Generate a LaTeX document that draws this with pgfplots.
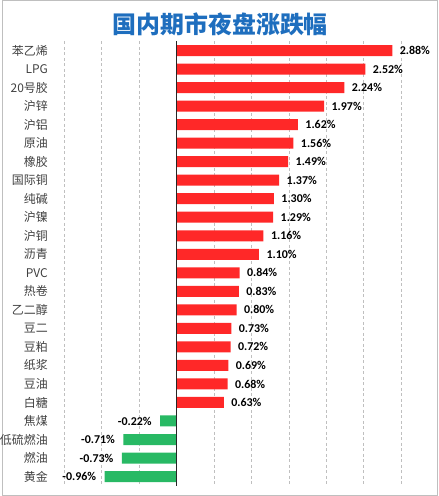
\documentclass[border=0pt]{standalone}
\usepackage{pgfplots}
\pgfplotsset{compat=1.18}
\usepackage{fontspec}
\setmainfont{Carlito}
\newfontfamily\cjk{Noto Sans CJK SC}
\definecolor{barred}{RGB}{255,40,40}
\definecolor{bargreen}{RGB}{40,185,100}
\definecolor{titleblue}{RGB}{30,110,190}
\begin{document}
\begin{tikzpicture}[x=1bp,y=1bp]
\draw[black!25, line width=1bp] (0.5,0.5) rectangle (435.5,495.5);
\node[font=\cjk\bfseries\fontsize{24}{28}\selectfont, text=titleblue] at (218,472) {国内期市夜盘涨跌幅};
\begin{axis}[at={(62bp,10.2bp)}, anchor=south west, scale only axis,
  width=337bp, height=444.5bp,
  xbar, bar width=11bp, bar shift=0pt,
  xmin=-1.5, xmax=3.0, ymin=-0.5, ymax=23.5, y dir=reverse,
  axis line style={draw=none},
  tick style={draw=none},
  xtick=\empty,
  ytick={0,...,23},
  yticklabels={苯乙烯,LPG,20号胶,沪锌,沪铝,原油,橡胶,国际铜,纯碱,沪镍,沪铜,沥青,PVC,热卷,乙二醇,豆二,豆粕,纸浆,豆油,白糖,焦煤,低硫燃油,燃油,黄金},
  yticklabel style={font=\cjk\fontsize{12}{14}\selectfont, text=black!75, anchor=east, inner xsep=0pt, xshift=-12bp},
  point meta=x,
  nodes near coords={\pgfmathprintnumber[fixed,fixed zerofill,precision=2,assume math mode=true]{\pgfplotspointmeta}\%},
  every node near coord/.append style={font=\bfseries\fontsize{12}{14}\selectfont, text=black},
  clip=false,
]
\pgfplotsinvokeforeach{-1.5,-1,-0.5,0.5,1,1.5,2,2.5,3}{
  \draw[black!25, line width=0.8bp, dash pattern=on 3bp off 2.5bp] (axis cs:#1,-0.5) -- (axis cs:#1,23.5);
}
\addplot[draw=none, fill=barred, nodes near coords style={anchor=west, xshift=4bp}] coordinates {
(2.88,0) (2.52,1) (2.24,2) (1.97,3) (1.62,4) (1.56,5) (1.49,6) (1.37,7) (1.30,8) (1.29,9)
(1.16,10) (1.10,11) (0.84,12) (0.83,13) (0.80,14) (0.73,15) (0.72,16) (0.69,17) (0.68,18) (0.63,19)
};
\addplot[draw=none, fill=bargreen, nodes near coords style={anchor=east, xshift=-5bp}] coordinates {
(-0.22,20) (-0.71,21) (-0.73,22) (-0.96,23)
};
\draw[black!85, line width=0.8bp] (axis cs:0,-0.5) -- (axis cs:0,23.5);
\end{axis}
\end{tikzpicture}
\end{document}
